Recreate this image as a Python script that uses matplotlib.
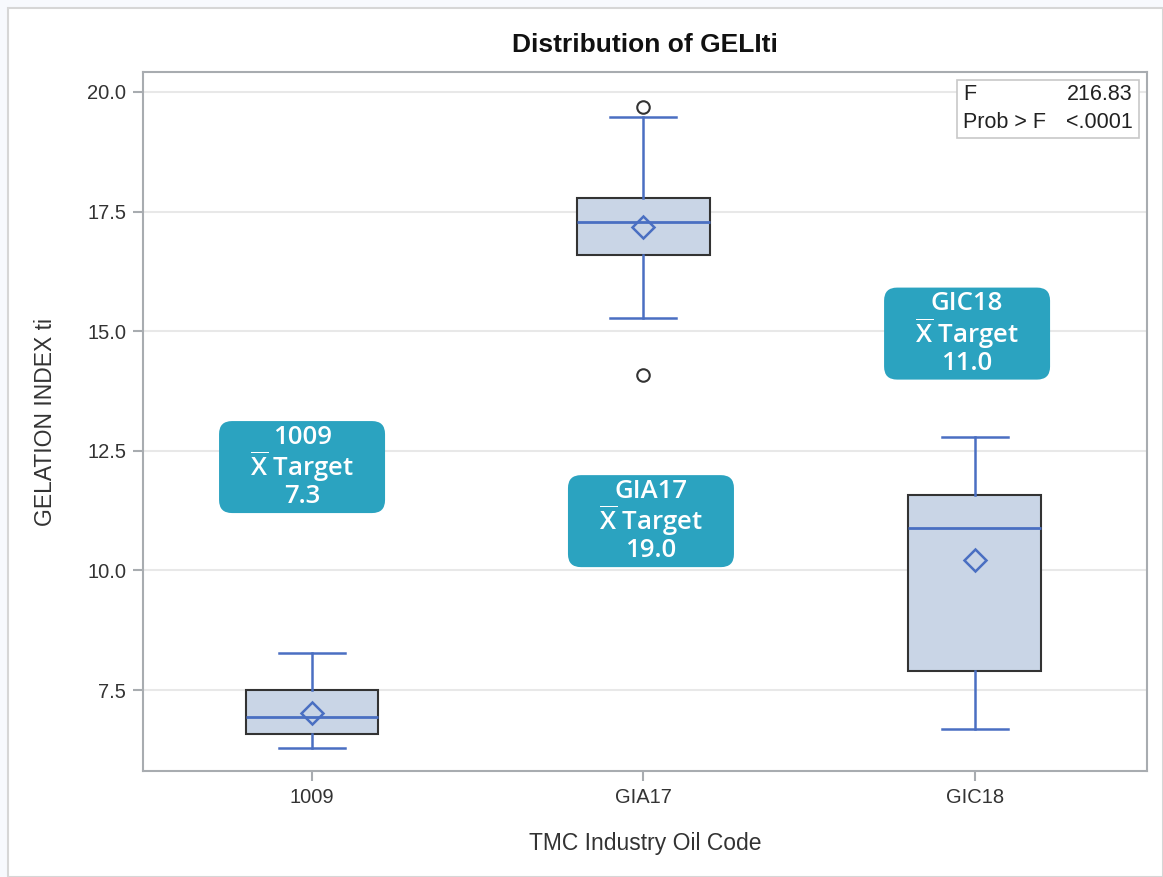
import matplotlib
matplotlib.use("Agg")
import matplotlib.pyplot as plt
from matplotlib.patches import Rectangle, FancyBboxPatch

# ---- data ----
categories = ["1009", "GIA17", "GIC18"]
whisker_low = [6.29, 15.28, 6.68]
q1 = [6.57, 16.59, 7.90]
median = [6.93, 17.28, 10.89]
q3 = [7.50, 17.79, 11.58]
whisker_high = [8.27, 19.48, 12.79]
means = [7.01, 17.18, 10.22]
outliers = [[], [19.69, 14.08], []]
targets = [7.3, 19.0, 11.0]
callout_x = [-0.03, 1.023, 1.977]
callout_y = [12.16, 11.03, 14.95]
yticks = [7.5, 10.0, 12.5, 15.0, 17.5, 20.0]
f_value = "216.83"
prob_f = "<.0001"

plt.rcParams["mathtext.fontset"] = "custom"
plt.rcParams["mathtext.rm"] = "Open Sans:semibold"
plt.rcParams["mathtext.it"] = "Open Sans:italic"
plt.rcParams["mathtext.bf"] = "Open Sans:bold"

W, H = 1163, 877
AX_L, AX_R, AX_T, AX_B = 143, 1147, 72, 771
fig = plt.figure(figsize=(W / 100, H / 100), dpi=100)
fig.patch.set_facecolor("#f7f9fd")
fig.patches.append(Rectangle((8 / W, 0.0 / H), (W - 8) / W, (H - 8) / H,
                             transform=fig.transFigure, facecolor="white",
                             edgecolor="#d6d6d6", linewidth=1.5, zorder=-5))

ax = fig.add_axes([AX_L / W, (H - AX_B) / H, (AX_R - AX_L) / W, (AX_B - AX_T) / H])
ax.set_facecolor("white")

stats = []
for i in range(len(categories)):
    stats.append(dict(med=median[i], q1=q1[i], q3=q3[i], whislo=whisker_low[i],
                      whishi=whisker_high[i], mean=means[i], fliers=outliers[i],
                      label=categories[i]))

blue = "#4a6fc2"
ax.bxp(stats, positions=range(len(categories)), widths=0.4, showmeans=True,
       patch_artist=True, manage_ticks=False,
       boxprops=dict(facecolor="#c9d5e6", edgecolor="#333333", linewidth=1.5),
       medianprops=dict(color=blue, linewidth=2),
       whiskerprops=dict(color=blue, linewidth=1.8),
       capprops=dict(color=blue, linewidth=1.8),
       capwidths=0.2,
       meanprops=dict(marker="D", markerfacecolor="none", markeredgecolor=blue,
                      markersize=11.5, markeredgewidth=1.8),
       flierprops=dict(marker="o", markerfacecolor="none", markeredgecolor="#333333",
                       markersize=9, markeredgewidth=1.5))

XMIN, XMAX, YMIN, YMAX = -0.51, 2.52, 5.807, 20.418
ax.set_xlim(XMIN, XMAX)
ax.set_ylim(YMIN, YMAX)
ax.set_xticks(range(len(categories)))
ax.set_xticklabels(categories)
ax.set_yticks(yticks)
ax.set_yticklabels([f"{v:.1f}" for v in yticks])
ax.grid(axis="y", color="#e8e8e8", linewidth=1.5, zorder=0)
ax.set_axisbelow(True)
for s in ax.spines.values():
    s.set_color("#a8acb0")
    s.set_linewidth(1.5)
ax.tick_params(axis="both", colors="#a8acb0", length=7, width=1.5, pad=5,
               labelcolor="#333333", labelsize=14.5)
for lab in ax.get_xticklabels() + ax.get_yticklabels():
    lab.set_fontfamily("Liberation Sans")

ax.set_xlabel("TMC Industry Oil Code", fontsize=16.5, color="#333333",
              fontfamily="Liberation Sans", labelpad=18)
ax.set_ylabel("GELATION INDEX ti", fontsize=16.5, color="#333333",
              fontfamily="Liberation Sans", labelpad=22)
fig.text(645 / W, 1 - 45 / H, "Distribution of GELIti", ha="center", va="center",
         fontsize=19, fontweight="bold", fontfamily="Liberation Sans", color="#111111")


def axpt(x, y):
    return ((x - AX_L) / (AX_R - AX_L), 1 - (y - AX_T) / (AX_B - AX_T))


# stats inset box
x0, y0 = axpt(957, 138)
ax.add_patch(Rectangle((x0, y0), 182 / (AX_R - AX_L), 58 / (AX_B - AX_T),
                       transform=ax.transAxes, facecolor="white",
                       edgecolor="#c8c8c8", linewidth=1.2, zorder=5))
tkw = dict(transform=ax.transAxes, fontsize=15.5, fontfamily="Liberation Sans",
           color="#222222", va="center", zorder=6)
ax.text(*axpt(963, 94), "F", ha="left", **tkw)
ax.text(*axpt(1133, 94), f_value, ha="right", **tkw)
ax.text(*axpt(963, 122), "Prob > F", ha="left", **tkw)
ax.text(*axpt(1133, 122), prob_f, ha="right", **tkw)

# target callouts
px_x = (XMAX - XMIN) / (AX_R - AX_L)   # data units per pixel (x)
px_y = (YMAX - YMIN) / (AX_B - AX_T)   # data units per pixel (y)
bw, bh = 166 * px_x, 92 * px_y
for i, (cat, t) in enumerate(zip(categories, targets)):
    cx, cy = callout_x[i], callout_y[i]
    ax.add_patch(FancyBboxPatch((cx - bw / 2, cy - bh / 2), bw, bh,
                                boxstyle=f"round,pad=0,rounding_size={13 * px_x}",
                                mutation_aspect=px_y / px_x,
                                facecolor="#2ba3c0", edgecolor="none", zorder=7))
    ax.text(cx, cy, f"{cat}\n" + r"$\overline{\mathrm{X}}$" + f" Target\n{t:.1f}",
            ha="center", va="center", fontsize=18.5, color="white",
            fontfamily="Open Sans", fontweight="semibold", linespacing=1.0, zorder=8)

fig.savefig("out.png", dpi=100, facecolor=fig.get_facecolor())
